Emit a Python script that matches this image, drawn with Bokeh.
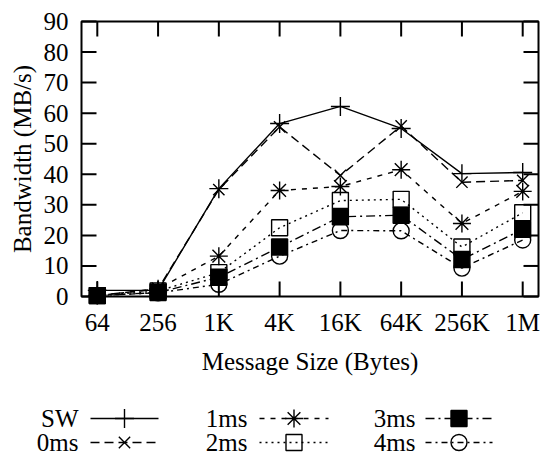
import math
from bokeh.plotting import figure
from bokeh.models import Range1d, InlineStyleSheet
from bokeh.core.properties import value
from bokeh.embed import file_html
from bokeh.resources import INLINE

# Message sizes on a log2 axis, one slot per size
sizes = ["64", "256", "1K", "4K", "16K", "64K", "256K", "1M"]

# Bandwidth (MB/s) per configuration
bw_sw = [2.0, 2.0, 35.3, 56.6, 62.2, 55.0, 40.2, 40.6]
bw_0ms = [0.3, 2.5, 35.0, 55.5, 39.6, 55.8, 37.4, 38.0]
bw_1ms = [0.3, 2.5, 13.2, 34.7, 36.0, 41.5, 23.9, 34.4]
bw_2ms = [0.3, 1.8, 7.8, 22.5, 31.4, 31.8, 16.2, 27.4]
bw_3ms = [0.3, 1.3, 6.3, 16.2, 26.1, 26.6, 12.1, 22.0]
bw_4ms = [0.3, 1.2, 4.0, 13.2, 21.6, 21.5, 9.3, 18.5]

y_ticks = [0, 10, 20, 30, 40, 50, 60, 70, 80, 90]

FAMILY = "Liberation Serif"
FS = "25px"

series = [
    # name, values, dash, marker, marker size, filled
    ("SW", bw_sw, "solid", "cross", 19, False),
    ("0ms", bw_0ms, "9 5", "x", 16, False),
    ("1ms", bw_1ms, "5 6", "asterisk", 18, False),
    ("2ms", bw_2ms, "2 4", "square", 16, False),
    ("3ms", bw_3ms, "9 4 2 4", "square", 16, True),
    ("4ms", bw_4ms, "6 4 2 4", "circle", 16, False),
]

# Canvas and plot-box geometry (pixels); the whole canvas is one frame and the
# axes, key and labels are drawn in it.
W, H = 543, 455
BOX_L, BOX_R, BOX_T, BOX_B = 81, 538, 21, 296
XL, XR = -0.26, len(sizes) - 1 + 0.26
YB, YT = 0, 90

kx = (XR - XL) / (BOX_R - BOX_L)   # data units per pixel
ky = (YT - YB) / (BOX_B - BOX_T)
x_start = XL - BOX_L * kx
x_end = XR + (W - BOX_R) * kx
y_top = YT + BOX_T * ky
y_bottom = YB - (H - BOX_B) * ky


def fx(px):
    return x_start + px * kx


def fy(py):
    return y_top - py * ky


p = figure(width=W, height=H, output_backend="svg", toolbar_location=None,
           x_range=Range1d(x_start, x_end), y_range=Range1d(y_bottom, y_top),
           min_border=0)
p.stylesheets = [InlineStyleSheet(
    css="text { font-family: 'Liberation Serif', serif !important; }")]
p.axis.visible = False
p.grid.visible = False
p.outline_line_color = None
p.background_fill_color = "white"
p.border_fill_color = "white"


def label(xv, yv, texts, **kw):
    p.text(xv, yv, text=texts, text_font=value(FAMILY), text_font_size=FS,
           text_color="black", **kw)


xs = list(range(len(sizes)))

# data
for name, vals, dash, marker, msize, filled in series:
    p.line(xs, vals, line_color="black", line_width=1.4, line_dash=dash)
for name, vals, dash, marker, msize, filled in series:
    p.scatter(xs, vals, marker=marker, size=msize, line_color="black",
              line_width=1.4, fill_color="black" if filled else None)

# plot box
p.quad(left=[XL], right=[XR], bottom=[YB], top=[YT], fill_color=None,
       line_color="black", line_width=2)

# inward ticks on all four sides
TICK = 15
p.segment(x0=xs, y0=[YB] * len(xs), x1=xs, y1=[YB + TICK * ky] * len(xs),
          line_color="black", line_width=2)
p.segment(x0=xs, y0=[YT] * len(xs), x1=xs, y1=[YT - TICK * ky] * len(xs),
          line_color="black", line_width=2)
p.segment(x0=[XL] * len(y_ticks), y0=y_ticks, x1=[XL + TICK * kx] * len(y_ticks),
          y1=y_ticks, line_color="black", line_width=2)
p.segment(x0=[XR] * len(y_ticks), y0=y_ticks, x1=[XR - TICK * kx] * len(y_ticks),
          y1=y_ticks, line_color="black", line_width=2)

# key: label, then a line sample with its marker
col_label_right = [78, 247, 415]
col_sample = [(90, 158), (259, 328), (425, 492)]
row_y = [418, 442]

for i, (name, vals, dash, marker, msize, filled) in enumerate(series):
    c, r = divmod(i, 2)
    x0, x1 = col_sample[c]
    y = fy(row_y[r])
    p.line([fx(x0), fx(x1)], [y, y], line_color="black", line_width=1.4,
           line_dash=dash)
    p.scatter([fx((x0 + x1) / 2)], [y], marker=marker, size=msize,
              line_color="black", line_width=1.4,
              fill_color="black" if filled else None)

# tick labels
label(xs, [fy(322)] * len(xs), sizes, text_align="center", text_baseline="middle")
label([fx(68)] * len(y_ticks), y_ticks, [str(t) for t in y_ticks],
      text_align="right", text_baseline="middle")

# axis titles
label([(XL + XR) / 2], [fy(361)], ["Message Size (Bytes)"],
      text_align="center", text_baseline="middle")
label([fx(22)], [(YB + YT) / 2], ["Bandwidth (MB/s)"],
      text_align="center", text_baseline="middle", angle=math.pi / 2)

# key labels
for i, (name, *_rest) in enumerate(series):
    c, r = divmod(i, 2)
    label([fx(col_label_right[c])], [fy(row_y[r])], [name],
          text_align="right", text_baseline="middle")

open("out.html", "w").write(file_html(p, INLINE))
